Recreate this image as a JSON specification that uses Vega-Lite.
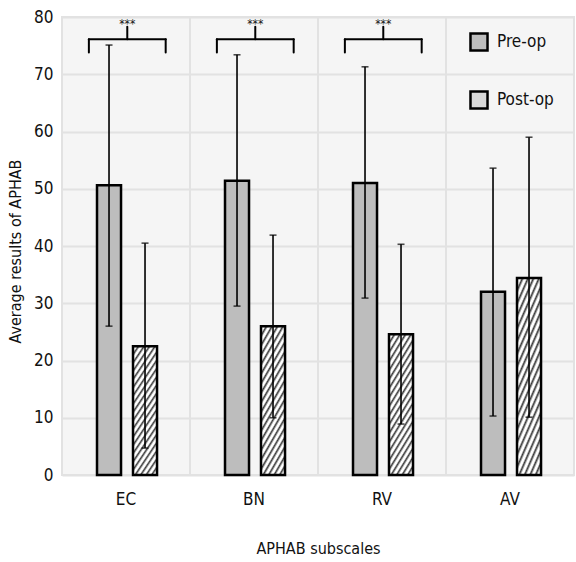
{
  "$schema": "https://vega.github.io/schema/vega-lite/v6.json",
  "width": 512,
  "height": 458,
  "autosize": "none",
  "padding": {"left": 62, "top": 17, "right": 2, "bottom": 87},
  "background": "white",
  "datasets": {
    "bars": [
      {"cat": "EC", "group": "Pre-op", "mean": 50.6, "lo": 26.0, "hi": 75.1},
      {"cat": "EC", "group": "Post-op", "mean": 22.5, "lo": 4.7, "hi": 40.5},
      {"cat": "BN", "group": "Pre-op", "mean": 51.4, "lo": 29.5, "hi": 73.4},
      {"cat": "BN", "group": "Post-op", "mean": 26.0, "lo": 10.0, "hi": 41.9},
      {"cat": "RV", "group": "Pre-op", "mean": 51.0, "lo": 30.9, "hi": 71.3},
      {"cat": "RV", "group": "Post-op", "mean": 24.6, "lo": 8.9, "hi": 40.3},
      {"cat": "AV", "group": "Pre-op", "mean": 32.0, "lo": 10.3, "hi": 53.6},
      {"cat": "AV", "group": "Post-op", "mean": 34.4, "lo": 10.1, "hi": 59.0}
    ],
    "brackets": [
      {"cat": "EC", "sig": "***"},
      {"cat": "BN", "sig": "***"},
      {"cat": "RV", "sig": "***"}
    ],
    "cats": [{"cat": "EC"}, {"cat": "BN"}, {"cat": "RV"}, {"cat": "AV"}]
  },
  "config": {
    "font": "DejaVu Sans Condensed, Liberation Sans Narrow, sans-serif",
    "view": {"stroke": "#e2e2e2", "strokeWidth": 2, "fill": "#f5f5f5"},
    "axis": {
      "domain": false,
      "ticks": false,
      "labelColor": "#111",
      "titleColor": "#111",
      "labelFontSize": 17,
      "titleFontSize": 16,
      "titleFontWeight": "normal",
      "gridColor": "#e2e2e2",
      "gridWidth": 2
    },
    "legend": {
      "title": null, "orient": "none", "legendX": 407, "legendY": 15, "padding": 0,
      "symbolType": "square", "symbolSize": 290, "symbolStrokeWidth": 2.5,
      "labelFontSize": 17, "labelColor": "#111", "labelOffset": 8, "rowPadding": 30
    }
  },
  "layer": [
    {
      "data": {"name": "cats"},
      "mark": {"type": "rule", "color": "#e2e2e2", "strokeWidth": 2},
      "encoding": {
        "x": {
          "field": "cat", "type": "nominal", "bandPosition": 0, "title": "APHAB subscales",
          "scale": {"domain": ["EC", "BN", "RV", "AV"], "paddingInner": 0, "paddingOuter": 0},
          "axis": {"labelAngle": 0, "grid": false, "labelPadding": 16, "titlePadding": 33}
        }
      }
    },
    {
      "data": {"name": "bars"},
      "transform": [{"filter": "datum.group === 'Pre-op'"}],
      "mark": {"type": "bar", "strokeWidth": 2.5},
      "encoding": {
        "x": {"field": "cat", "type": "nominal", "title": "APHAB subscales"},
        "xOffset": {"field": "group", "type": "nominal", "scale": {"domain": ["Pre-op", "Post-op"], "paddingInner": 0.333, "paddingOuter": 0.944, "align": 0.515}},
        "y": {
          "field": "mean", "type": "quantitative", "title": "Average results of APHAB",
          "scale": {"domain": [0, 80], "nice": false},
          "axis": {"values": [0, 10, 20, 30, 40, 50, 60, 70, 80], "grid": true, "labelPadding": 9, "titlePadding": 10, "titleY": 234}
        },
        "fill": {
          "field": "group", "type": "nominal", "title": null,
          "scale": {"domain": ["Pre-op", "Post-op"], "range": ["#bdbdbd", "#dadada"]}
        },
        "stroke": {
          "field": "group", "type": "nominal", "title": null,
          "scale": {"domain": ["Pre-op", "Post-op"], "range": ["#000000", "#000000"]}
        }
      }
    },
    {
      "data": {"name": "bars"},
      "transform": [{"filter": "datum.group === 'Post-op'"}],
      "mark": {
        "type": "bar", "stroke": "black", "strokeWidth": 2.5,
        "fill": {"gradient": "linear", "x1": 0, "y1": 0, "x2": 0.332, "y2": 1.187, "stops": [
          {"offset": 0, "color": "#383838"}, {"offset": 0.02, "color": "#fff"}, {"offset": 0.035, "color": "#fff"},
          {"offset": 0.05, "color": "#383838"}, {"offset": 0.07, "color": "#fff"}, {"offset": 0.085, "color": "#fff"},
          {"offset": 0.1, "color": "#383838"}, {"offset": 0.12, "color": "#fff"}, {"offset": 0.135, "color": "#fff"},
          {"offset": 0.15, "color": "#383838"}, {"offset": 0.17, "color": "#fff"}, {"offset": 0.185, "color": "#fff"},
          {"offset": 0.2, "color": "#383838"}, {"offset": 0.22, "color": "#fff"}, {"offset": 0.235, "color": "#fff"},
          {"offset": 0.25, "color": "#383838"}, {"offset": 0.27, "color": "#fff"}, {"offset": 0.285, "color": "#fff"},
          {"offset": 0.3, "color": "#383838"}, {"offset": 0.32, "color": "#fff"}, {"offset": 0.335, "color": "#fff"},
          {"offset": 0.35, "color": "#383838"}, {"offset": 0.37, "color": "#fff"}, {"offset": 0.385, "color": "#fff"},
          {"offset": 0.4, "color": "#383838"}, {"offset": 0.42, "color": "#fff"}, {"offset": 0.435, "color": "#fff"},
          {"offset": 0.45, "color": "#383838"}, {"offset": 0.47, "color": "#fff"}, {"offset": 0.485, "color": "#fff"},
          {"offset": 0.5, "color": "#383838"}, {"offset": 0.52, "color": "#fff"}, {"offset": 0.535, "color": "#fff"},
          {"offset": 0.55, "color": "#383838"}, {"offset": 0.57, "color": "#fff"}, {"offset": 0.585, "color": "#fff"},
          {"offset": 0.6, "color": "#383838"}, {"offset": 0.62, "color": "#fff"}, {"offset": 0.635, "color": "#fff"},
          {"offset": 0.65, "color": "#383838"}, {"offset": 0.67, "color": "#fff"}, {"offset": 0.685, "color": "#fff"},
          {"offset": 0.7, "color": "#383838"}, {"offset": 0.72, "color": "#fff"}, {"offset": 0.735, "color": "#fff"},
          {"offset": 0.75, "color": "#383838"}, {"offset": 0.77, "color": "#fff"}, {"offset": 0.785, "color": "#fff"},
          {"offset": 0.8, "color": "#383838"}, {"offset": 0.82, "color": "#fff"}, {"offset": 0.835, "color": "#fff"},
          {"offset": 0.85, "color": "#383838"}, {"offset": 0.87, "color": "#fff"}, {"offset": 0.885, "color": "#fff"},
          {"offset": 0.9, "color": "#383838"}, {"offset": 0.92, "color": "#fff"}, {"offset": 0.935, "color": "#fff"},
          {"offset": 0.95, "color": "#383838"}, {"offset": 0.97, "color": "#fff"}, {"offset": 0.985, "color": "#fff"},
          {"offset": 1, "color": "#383838"}
        ]}
      },
      "encoding": {
        "x": {"field": "cat", "type": "nominal", "title": "APHAB subscales"},
        "xOffset": {"field": "group", "type": "nominal"},
        "y": {"field": "mean", "type": "quantitative", "title": "Average results of APHAB"}
      }
    },
    {
      "data": {"name": "bars"},
      "mark": {"type": "rule", "color": "black", "strokeWidth": 1.6},
      "encoding": {
        "x": {"field": "cat", "type": "nominal", "title": "APHAB subscales"},
        "xOffset": {"field": "group", "type": "nominal"},
        "y": {"field": "lo", "type": "quantitative", "title": "Average results of APHAB"},
        "y2": {"field": "hi"}
      }
    },
    {
      "data": {"name": "bars"},
      "mark": {"type": "tick", "color": "black", "size": 7, "thickness": 1.6},
      "encoding": {
        "x": {"field": "cat", "type": "nominal", "title": "APHAB subscales"},
        "xOffset": {"field": "group", "type": "nominal"},
        "y": {"field": "hi", "type": "quantitative", "title": "Average results of APHAB"}
      }
    },
    {
      "data": {"name": "bars"},
      "mark": {"type": "tick", "color": "black", "size": 7, "thickness": 1.6},
      "encoding": {
        "x": {"field": "cat", "type": "nominal", "title": "APHAB subscales"},
        "xOffset": {"field": "group", "type": "nominal"},
        "y": {"field": "lo", "type": "quantitative", "title": "Average results of APHAB"}
      }
    },
    {
      "data": {"name": "brackets"},
      "mark": {"type": "rule", "color": "black", "strokeWidth": 2, "strokeCap": "round"},
      "encoding": {
        "x": {"field": "cat", "type": "nominal", "bandPosition": 0.21, "title": "APHAB subscales"},
        "x2": {"field": "cat", "bandPosition": 0.81},
        "y": {"datum": 76.1}
      }
    },
    {
      "data": {"name": "brackets"},
      "mark": {"type": "rule", "color": "black", "strokeWidth": 2, "strokeCap": "round"},
      "encoding": {
        "x": {"field": "cat", "type": "nominal", "bandPosition": 0.21, "title": "APHAB subscales"},
        "y": {"datum": 73.8},
        "y2": {"datum": 76.1}
      }
    },
    {
      "data": {"name": "brackets"},
      "mark": {"type": "rule", "color": "black", "strokeWidth": 2, "strokeCap": "round"},
      "encoding": {
        "x": {"field": "cat", "type": "nominal", "bandPosition": 0.81, "title": "APHAB subscales"},
        "y": {"datum": 73.8},
        "y2": {"datum": 76.1}
      }
    },
    {
      "data": {"name": "brackets"},
      "mark": {"type": "rule", "color": "black", "strokeWidth": 2, "strokeCap": "round"},
      "encoding": {
        "x": {"field": "cat", "type": "nominal", "bandPosition": 0.51, "title": "APHAB subscales"},
        "y": {"datum": 76.1},
        "y2": {"datum": 78.3}
      }
    },
    {
      "data": {"name": "brackets"},
      "mark": {"type": "text", "fontSize": 12, "color": "#111", "baseline": "alphabetic"},
      "encoding": {
        "x": {"field": "cat", "type": "nominal", "bandPosition": 0.51, "title": "APHAB subscales"},
        "y": {"datum": 78.0},
        "text": {"field": "sig"}
      }
    }
  ]
}
